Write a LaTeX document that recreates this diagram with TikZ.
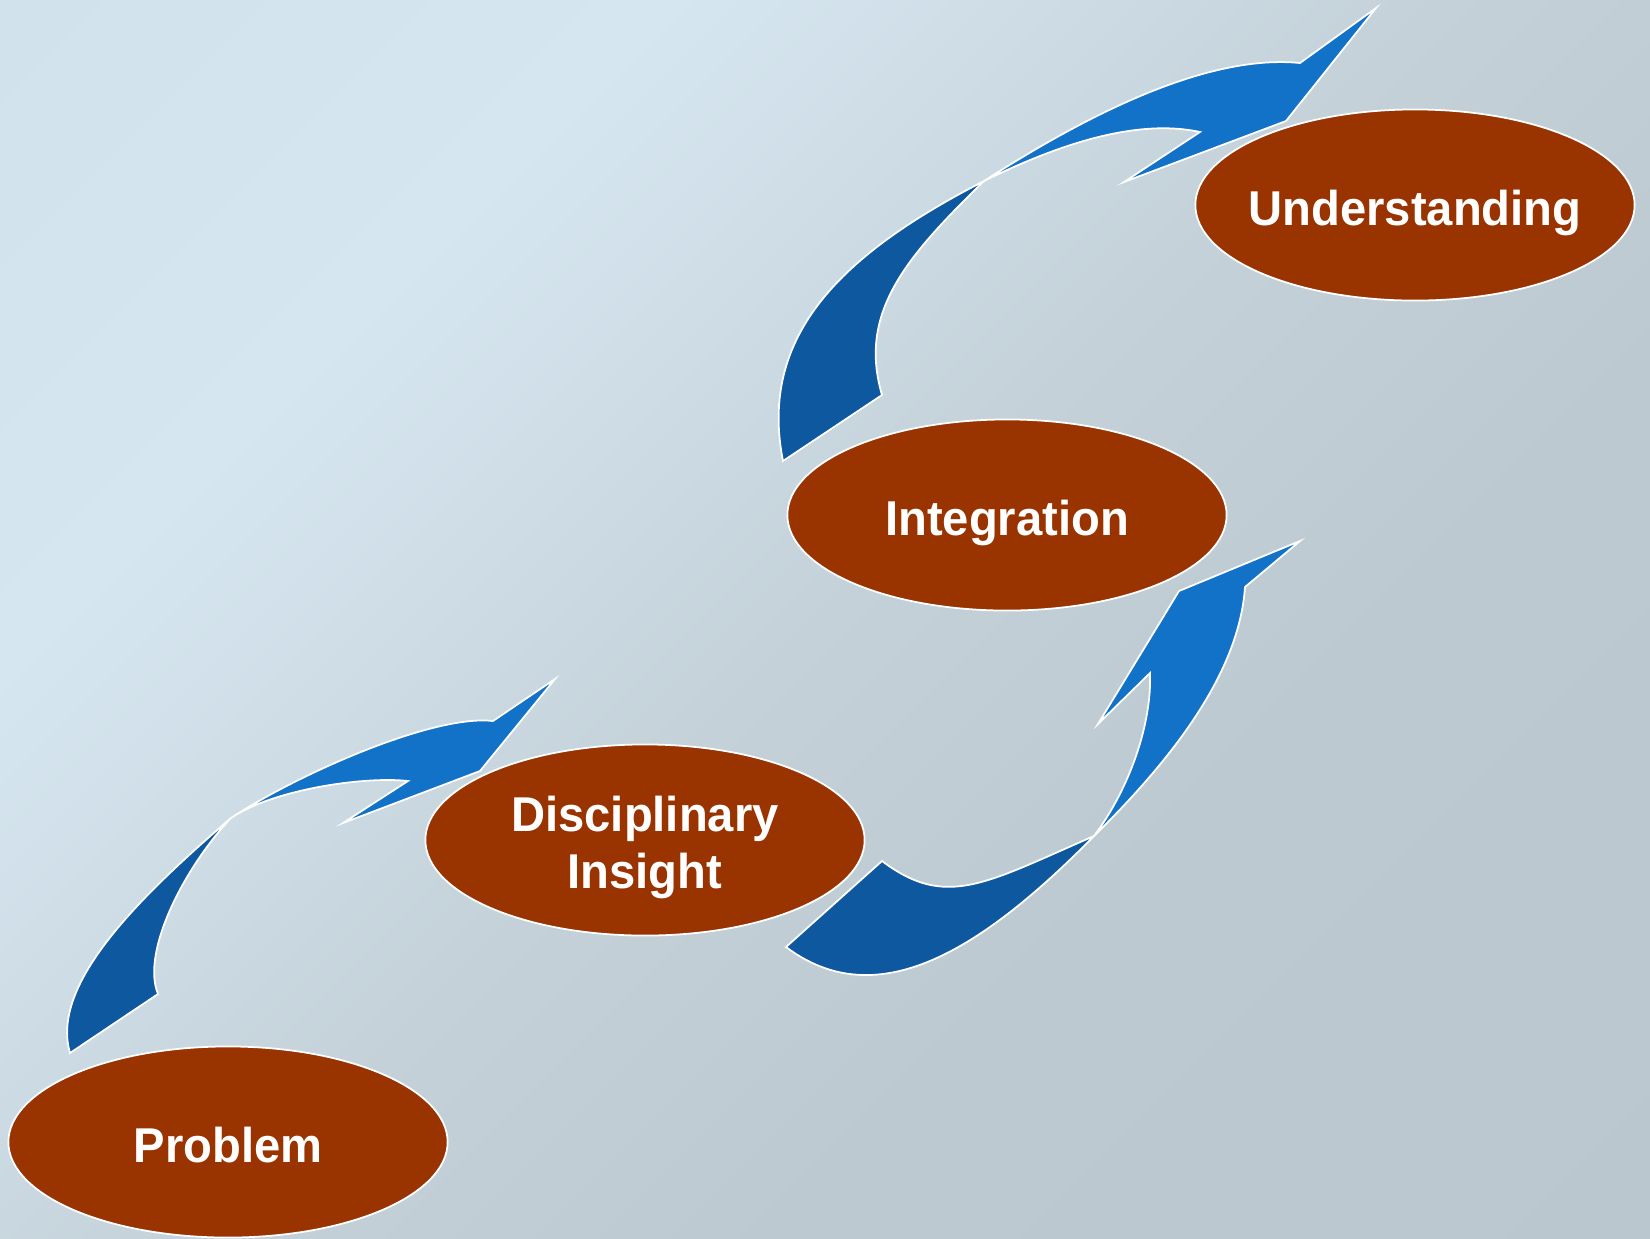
\documentclass[tikz,border=0pt]{standalone}
\usepackage{fontspec}
\setmainfont[FakeStretch=0.965]{Liberation Sans}
\usepackage{tikz}
\usetikzlibrary{shapes.geometric}

\definecolor{stagebrown}{HTML}{993300}
\definecolor{arrowdark}{HTML}{0E58A0}
\definecolor{arrowlight}{HTML}{1272C8}
\definecolor{bgA}{HTML}{D1E2ED}
\definecolor{bgB}{HTML}{D6E6F0}
\definecolor{bgC}{HTML}{CCDAE3}
\definecolor{bgD}{HTML}{C4D1D9}
\definecolor{bgE}{HTML}{BDC9D1}
\definecolor{bgF}{HTML}{BAC6CE}

\pgfdeclarehorizontalshading{backdrop}{100bp}{color(0bp)=(bgA); color(15bp)=(bgA); color(31bp)=(bgB); color(42bp)=(bgC); color(50bp)=(bgD); color(64bp)=(bgE); color(100bp)=(bgF)}

\begin{document}
\begin{tikzpicture}[x=0.01cm, y=-0.01cm]
				% Styles
				\tikzstyle{stage} = [draw=white, line width=0.5pt, fill=stagebrown, ellipse, minimum width=4.39cm, minimum height=1.91cm, inner xsep=-20pt, inner ysep=0pt, align=center, text=white, font=\fontsize{13.9}{16.2}\selectfont\bfseries, text height=11.4pt, text depth=0pt]
				\tikzstyle{tail} = [draw=white, line width=0.5pt, fill=arrowdark]
				\tikzstyle{head} = [draw=white, line width=0.5pt, fill=arrowlight]

				% Background
				\shade[shading=backdrop, shading angle=-45] (0,0) rectangle (1650,1238);
				\useasboundingbox (0,0) rectangle (1650,1238);

				% Curved arrows (dark tail, light head)
				% problem -> insight
				\path[tail] (70,1053) .. controls (50,985) and (137,899) .. (231,818)
					.. controls (183,869) and (141,953) .. (158,994) -- cycle;
				\path[head] (231,818) .. controls (298,774) and (434,714) .. (493,721)
					-- (555,679) -- (480,771) -- (343,823) -- (408,781)
					.. controls (363,776) and (272,790) .. (231,818) -- cycle;
				% insight -> integration
				\path[tail] (786,947) .. controls (874,1013) and (975,957) .. (1094,836)
					.. controls (984,884) and (946,909) .. (882,861) -- cycle;
				\path[head] (1094,836) .. controls (1165,766) and (1239,677) .. (1245,587)
					-- (1300,541) -- (1179,591) -- (1098,724) -- (1150,673)
					.. controls (1152,723) and (1130,788) .. (1094,836) -- cycle;
				% integration -> understanding
				\path[tail] (783,461) .. controls (758,335) and (842,254) .. (984,181)
					.. controls (905,258) and (858,313) .. (882,395) -- cycle;
				\path[head] (984,181) .. controls (1093,111) and (1210,54) .. (1300,63)
					-- (1376,8) -- (1286,121) -- (1124,182) -- (1200,132)
					.. controls (1131,117) and (1047,150) .. (984,181) -- cycle;

				% Nodes with absolute coordinates
				\node (problem) [stage] at (228,1142) {Problem};
				\node (insight) [stage, text height=27.3pt] at (645,840) {Disciplinary \\ Insight};
				\node (integration) [stage] at (1007,515) {Integration};
				\node (understanding) [stage] at (1415,205) {Understanding};

			\end{tikzpicture}
\end{document}
